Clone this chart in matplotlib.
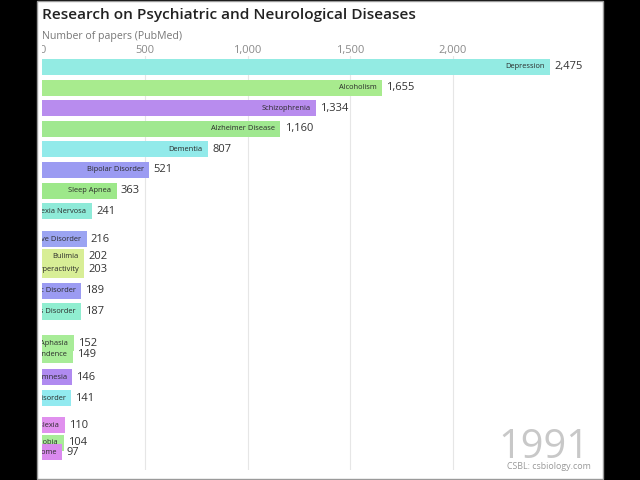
import matplotlib
matplotlib.use("Agg")
import matplotlib.pyplot as plt
from matplotlib.patches import Rectangle
from matplotlib.transforms import Bbox, TransformedBbox, blended_transform_factory

# ---- data (one frame of a bar-chart race, year 1991) ----
categories = ["Depression", "Alcoholism", "Schizophrenia", "Alzheimer Disease",
              "Dementia", "Bipolar Disorder", "Sleep Apnea", "Anorexia Nervosa",
              "Obsessive-Compulsive Disorder", "Bulimia",
              "Attention Deficit Disorder with Hyperactivity", "Panic Disorder",
              "Post-Traumatic Stress Disorder", "Aphasia", "Substance Dependence",
              "Amnesia", "Autistic Disorder", "Dyslexia", "Agoraphobia",
              "Tourette Syndrome"]
values = [2475, 1655, 1334, 1160, 807, 521, 363, 241, 216, 202, 203, 189, 187,
          152, 149, 146, 141, 110, 104, 97]
# positions mid-transition (rank slots, 0 = top)
positions = [0, 1, 2, 3, 4, 5, 6, 7, 8.35, 9.22, 9.85, 10.87, 11.87, 13.4,
             13.98, 15.05, 16.07, 17.38, 18.25, 18.69]
colors = ["#93EBE3", "#A8EB8E", "#B88CEE", "#A0E890", "#92EAEA", "#9B9BF2",
          "#9DE88A", "#8EEAD8", "#9BA4F2", "#D8EE96", "#D8EE96", "#9B9BF2",
          "#90EED0", "#A8EC98", "#A8EC98", "#B08AF0", "#92EAF0", "#E090EE",
          "#A8EC98", "#DA8AEE"]
xticks = [0, 500, 1000, 1500, 2000]
xticklabels = ["0", "500", "1,000", "1,500", "2,000"]
title = "Research on Psychiatric and Neurological Diseases"
subtitle = "Number of papers (PubMed)"
year = "1991"
credit = "CSBL: csbiology.com"

W, H = 640, 480
fig = plt.figure(figsize=(6.4, 4.8), dpi=100, facecolor="black")
fig.patches.append(Rectangle((37 / W, 1 / H), 566 / W, 478 / H,
                             transform=fig.transFigure, facecolor="white",
                             edgecolor="#9a9a9a", lw=1, zorder=-5))

plt.rcParams['font.family'] = ['Open Sans', 'DejaVu Sans']

px_per_unit = (453 - 145) / 1500.0
x0_px = 42.3
xmax = 2700
ax_left = x0_px
ax_right = x0_px + xmax * px_per_unit
ax_top, ax_bot = 56, 470
slot = 20.6
r_top = (ax_top - 67) / slot
r_bot = (ax_bot - 67) / slot

ax = fig.add_axes([ax_left / W, 1 - ax_bot / H, (ax_right - ax_left) / W,
                   (ax_bot - ax_top) / H])
ax.set_zorder(2)
ax.set_facecolor("none")
ax.set_xlim(0, xmax)
ax.set_ylim(r_bot, r_top)
for s in ax.spines.values():
    s.set_visible(False)
ax.set_yticks([])
ax.set_xticks([])
for xt in xticks[1:]:
    ax.axvline(xt, color="#e6e6e6", lw=0.8, zorder=0)

# top tick labels, the first one partly hidden at the left edge
clipbox = TransformedBbox(Bbox([[41.5 / W, 0], [1, 1]]), fig.transFigure)
tick_tr = blended_transform_factory(ax.transData, fig.transFigure)
for xt, lab in zip(xticks, xticklabels):
    t = ax.text(xt, 1 - 53 / H, lab, transform=tick_tr, ha="center",
                va="baseline", fontsize=8, color="#8a8a8a", clip_on=True)
    t.set_clip_box(clipbox)

for name, v, p, c in zip(categories, values, positions, colors):
    ax.barh(p, v, height=0.78, color=c, zorder=2)
    t = ax.annotate(name, (v, p), xytext=(-4, 0), textcoords="offset points",
                    ha="right", va="center", fontsize=5.4, color="#2a2a2a",
                    fontweight="medium", zorder=3, annotation_clip=False)
    t.set_clip_on(True)
    t.set_clip_box(ax.bbox)
    ax.annotate(f"{v:,}", (v, p), xytext=(3, 0), textcoords="offset points",
                ha="left", va="center", fontsize=8, color="#333333", zorder=3)

fig.text(42 / W, 1 - 15 / H, title, fontsize=11.1, fontweight="semibold",
         color="#222222", ha="left", va="center")
fig.text(42 / W, 1 - 39 / H, subtitle, fontsize=7.6, color="#777777",
         ha="left", va="baseline")
fig.text(589 / W, 1 - 458 / H, year, fontsize=28.5, color="#c8c8c8",
         ha="right", va="baseline")
fig.text(591 / W, 1 - 469 / H, credit, fontsize=6.4, color="#999999",
         ha="right", va="baseline")

fig.savefig("out.png", dpi=100, facecolor=fig.get_facecolor())
